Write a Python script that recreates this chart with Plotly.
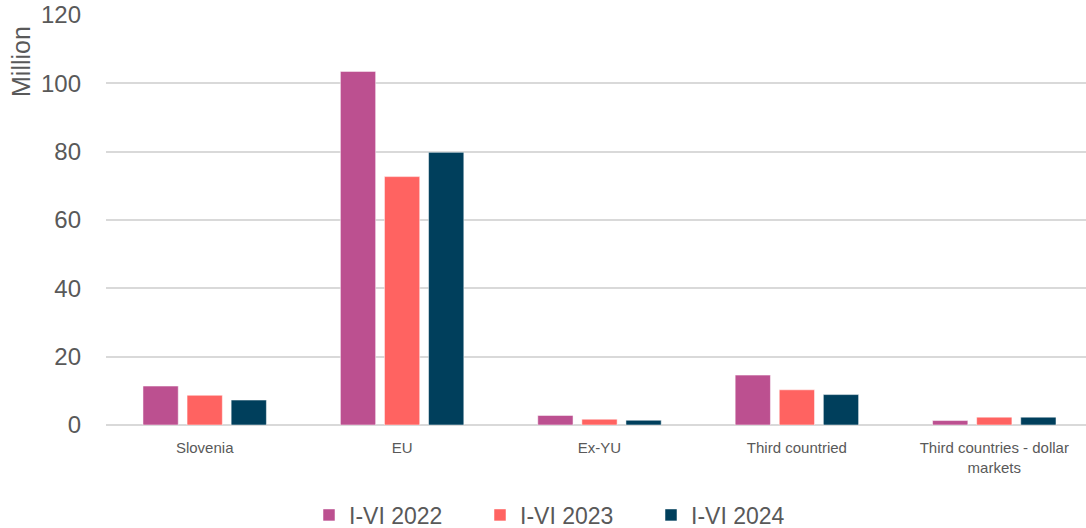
import plotly.graph_objects as go

categories = ["Slovenia", "EU", "Ex-YU", "Third countried", "Third countries - dollar<br>markets"]
series_names = ["I-VI 2022", "I-VI 2023", "I-VI 2024"]
values_2022 = [11.4, 103.5, 2.8, 14.6, 1.3]
values_2023 = [8.7, 72.7, 1.7, 10.3, 2.3]
values_2024 = [7.3, 79.8, 1.4, 8.9, 2.3]
y_ticks = [0, 20, 40, 60, 80, 100, 120]

colors = ["#BC5090", "#FF6361", "#003F5C"]
FONT = "Liberation Sans, Arial, sans-serif"
TXT = "#595959"

L, T, B, R = 106, 15, 103, 0
W, H = 1086, 528
PW = W - L - R
PH = H - T - B

fig = go.Figure()
for name, vals, col in zip(series_names, [values_2022, values_2023, values_2024], colors):
    fig.add_trace(go.Bar(
        x=list(range(len(categories))), y=vals, name=name,
        marker=dict(color=col, line=dict(color="rgba(255,255,255,0.5)", width=1)),
    ))

fig.update_layout(
    width=W, height=H,
    margin=dict(l=L, r=R, t=T, b=B),
    paper_bgcolor="white", plot_bgcolor="white",
    barmode="group", bargap=0.33, bargroupgap=0.2,
    font=dict(family=FONT, color=TXT),
    showlegend=True,
    legend=dict(orientation="h", x=565.5 / W, xanchor="center", xref="container",
                y=1 - 515 / H, yanchor="middle", yref="container",
                font=dict(size=23, color=TXT),
                itemwidth=30, entrywidth=126, entrywidthmode="pixels", traceorder="normal"),
    xaxis=dict(
        tickmode="array", tickvals=list(range(len(categories))), ticktext=categories,
        range=[-0.5, 4.4646], showgrid=False, showline=False, zeroline=False,
        tickfont=dict(size=15, color=TXT), ticks="", ticklabelstandoff=12,
    ),
    yaxis=dict(
        range=[0, 120], tickvals=y_ticks, showgrid=True, gridcolor="#D9D9D9", gridwidth=1.5,
        zeroline=True, zerolinecolor="#D9D9D9", zerolinewidth=1.5, showline=False,
        tickfont=dict(size=24, color=TXT), ticks="", ticklabelstandoff=24,
    ),
    annotations=[dict(text="Million", textangle=-90,
                      x=(21 - L) / PW, y=(T + PH - 62) / PH, xref="paper", yref="paper",
                      xanchor="center", yanchor="middle",
                      showarrow=False, font=dict(size=25, color=TXT))],
)

fig.write_html("out.html", config={"displayModeBar": False},
               post_script="document.body.style.margin='0';")
